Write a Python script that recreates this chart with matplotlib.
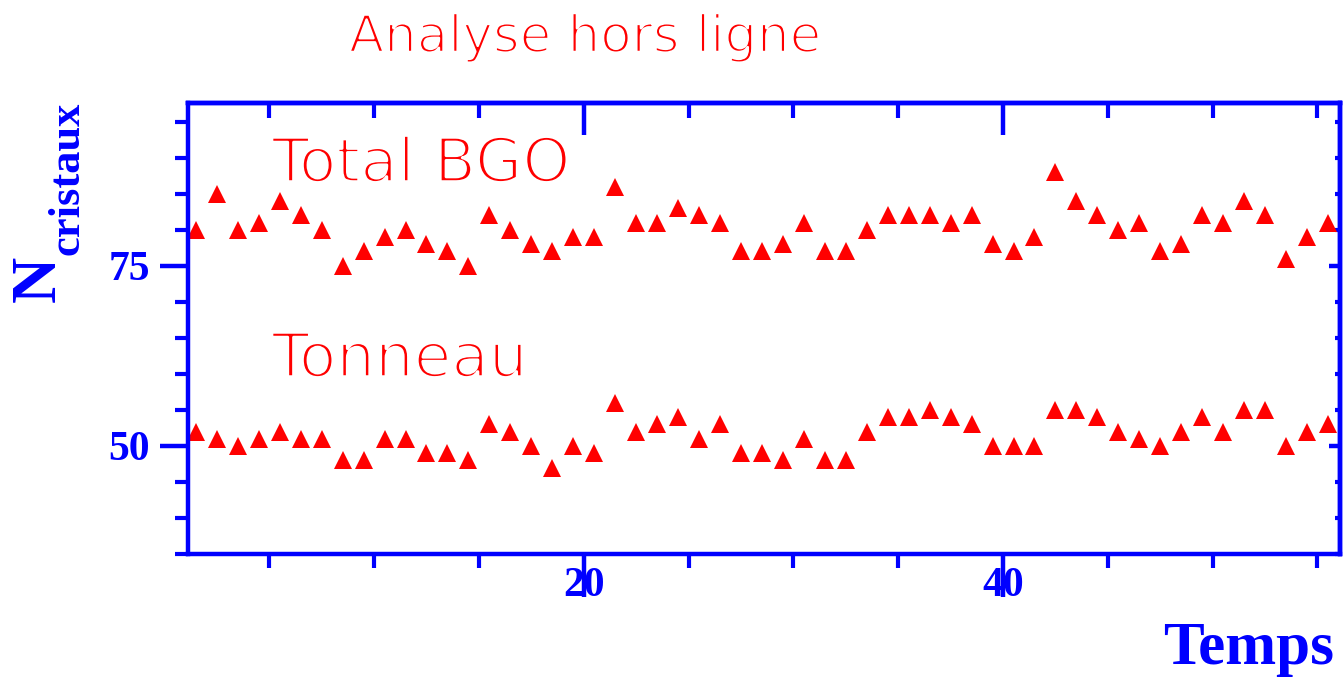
import numpy as np
import matplotlib
matplotlib.use("Agg")
import matplotlib.pyplot as plt
from matplotlib.ticker import MultipleLocator, FixedLocator, NullFormatter
import matplotlib.patheffects as pe

# data
temps = np.arange(55) + 1.5
total_bgo = [80, 85, 80, 81, 84, 82, 80, 75, 77, 79, 80, 78, 77, 75, 82, 80, 78, 77, 79, 79,
             86, 81, 81, 83, 82, 81, 77, 77, 78, 81, 77, 77, 80, 82, 82, 82, 81, 82, 78,
             77, 79, 88, 84, 82, 80, 81, 77, 78, 82, 81, 84, 82, 76, 79, 81]
tonneau = [52, 51, 50, 51, 52, 51, 51, 48, 48, 51, 51, 49, 49, 48, 53, 52, 50, 47, 50, 49,
           56, 52, 53, 54, 51, 53, 49, 49, 48, 51, 48, 48, 52, 54, 54, 55, 54, 53, 50,
           50, 50, 55, 55, 54, 52, 51, 50, 52, 54, 52, 55, 55, 50, 52, 53]
x_major = [20, 40]
y_major = [50, 75]

W, H = 1343, 678
BLUE = '#0000ff'
RED = '#ff0000'
serif = ['Liberation Serif', 'DejaVu Serif']


def fx(px):
    return px / W


def fy(py):
    return 1 - py / H


fig = plt.figure(figsize=(W / 100, H / 100), dpi=100)
ax = fig.add_axes([fx(187.5), fy(554), fx(1339.5) - fx(187.5), fy(103) - fy(554)])

ax.plot(temps, total_bgo, linestyle='none', marker='^', ms=13.5, color=RED, mew=0)
ax.plot(temps, tonneau, linestyle='none', marker='^', ms=13.5, color=RED, mew=0)

ax.set_xlim(1.1, 56.05)
ax.set_ylim(35, 97.6)

for s in ax.spines.values():
    s.set_color(BLUE)
    s.set_linewidth(3.2)

ax.xaxis.set_major_locator(FixedLocator(x_major))
ax.xaxis.set_minor_locator(MultipleLocator(5))
ax.yaxis.set_major_locator(FixedLocator(y_major))
ax.yaxis.set_minor_locator(MultipleLocator(5))

ax.tick_params(axis='x', which='major', direction='out', length=31, width=3.2, color=BLUE,
               labelcolor=BLUE, labelsize=30, pad=-22, top=False)
ax.tick_params(axis='x', which='minor', direction='out', length=10, width=3, color=BLUE, top=False)
ax.tick_params(axis='y', which='major', direction='out', length=20, width=3.2, color=BLUE,
               labelcolor=BLUE, labelsize=30, pad=7, right=False)
ax.tick_params(axis='y', which='minor', direction='out', length=9.5, width=3, color=BLUE, right=False)
for lab in ax.get_xticklabels() + ax.get_yticklabels():
    lab.set_fontfamily(serif)
    lab.set_fontweight('bold')

# top and right ticks point inwards with their own lengths
top = ax.secondary_xaxis('top')
top.xaxis.set_major_locator(FixedLocator(x_major))
top.xaxis.set_minor_locator(MultipleLocator(5))
top.xaxis.set_major_formatter(NullFormatter())
top.tick_params(which='major', direction='in', length=23, width=3.2, color=BLUE)
top.tick_params(which='minor', direction='in', length=11, width=3, color=BLUE)
right = ax.secondary_yaxis('right')
right.yaxis.set_major_locator(FixedLocator(y_major))
right.yaxis.set_minor_locator(MultipleLocator(5))
right.yaxis.set_major_formatter(NullFormatter())
right.tick_params(which='major', direction='in', length=8, width=3.2, color=BLUE)
right.tick_params(which='minor', direction='in', length=3.5, width=3, color=BLUE)
for sec in (top, right):
    for s in sec.spines.values():
        s.set_color(BLUE)
        s.set_linewidth(3.2)

# thin red lettering: red glyphs eroded by a white outline
thin_big = [pe.Stroke(linewidth=2.2, foreground='white')]
thin_small = [pe.Stroke(linewidth=1.8, foreground='white')]
ax.text(5.13, 86.67, 'Total BGO', fontsize=44, color=RED, family='DejaVu Sans',
        ha='left', va='baseline', path_effects=thin_big)
ax.text(5.13, 59.6, 'Tonneau', fontsize=44, color=RED, family='DejaVu Sans',
        ha='left', va='baseline', path_effects=thin_big)
fig.text(fx(349), fy(52), 'Analyse hors ligne', fontsize=37, color=RED, family='DejaVu Sans',
         ha='left', va='baseline', path_effects=thin_small)

fig.text(fx(1334), fy(664), 'Temps', fontsize=44, color=BLUE, family=serif, fontweight='bold',
         ha='right', va='baseline')
fig.text(fx(55), fy(302), 'N', fontsize=46, color=BLUE, family=serif, fontweight='bold',
         rotation=90, rotation_mode='anchor', ha='left', va='baseline')
fig.text(fx(78), fy(255), 'cristaux', fontsize=32, color=BLUE, family=serif, fontweight='bold',
         rotation=90, rotation_mode='anchor', ha='left', va='baseline')

fig.savefig('out.png', dpi=100)
